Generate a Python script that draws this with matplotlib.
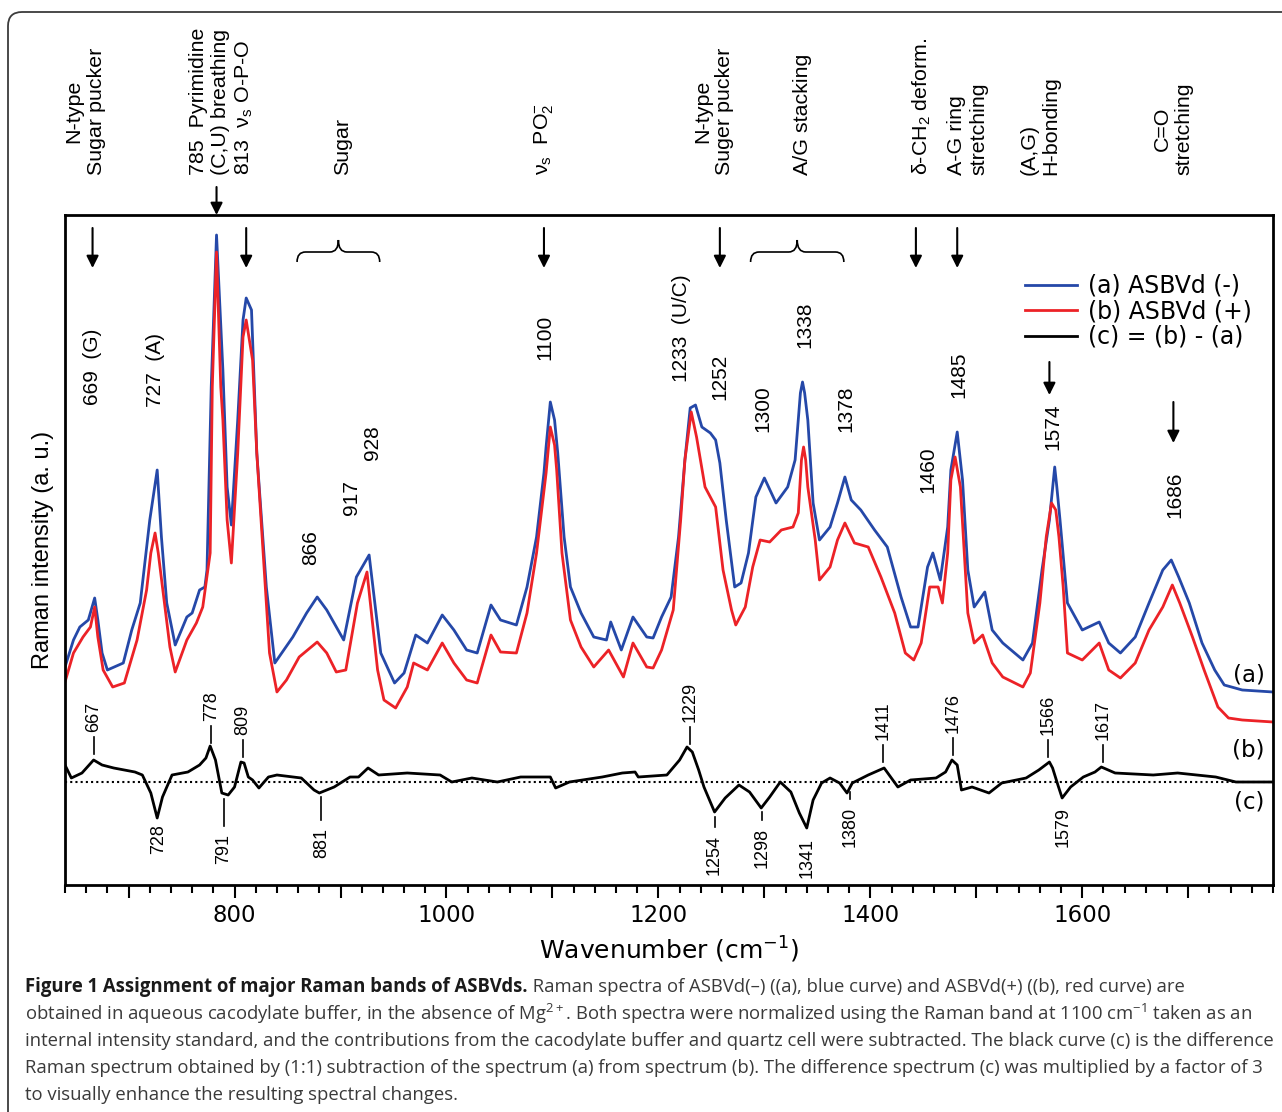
import numpy as np
import matplotlib
matplotlib.use("Agg")
import matplotlib.pyplot as plt
from matplotlib.path import Path
from matplotlib.patches import PathPatch, FancyBboxPatch
from matplotlib.ticker import MultipleLocator, FuncFormatter

plt.rcParams['font.family'] = ['Liberation Sans', 'DejaVu Sans']
plt.rcParams['mathtext.default'] = 'regular'

# spectrum (a) ASBVd(-), blue
wn_a = [640, 648, 654, 662, 668, 671, 675, 680, 695, 703, 711, 720, 727, 731, 736, 744, 755, 760,
        767, 772, 774, 778, 783, 789, 793, 797, 803, 808, 811, 816, 821, 830, 838, 855, 868, 878,
        887, 903, 915, 927, 938, 951, 960, 971, 982, 996, 1007, 1019, 1029, 1042, 1051, 1066, 1076,
        1085, 1092, 1094, 1098, 1102, 1105, 1111, 1117, 1127, 1139, 1151, 1155, 1165, 1176, 1189,
        1195, 1203, 1212, 1219, 1225, 1230, 1235, 1241, 1249, 1254, 1258, 1264, 1272, 1278, 1285,
        1292, 1300, 1311, 1322, 1329, 1334, 1336, 1338, 1341, 1346, 1352, 1362, 1369, 1376, 1382,
        1391, 1404, 1416, 1429, 1438, 1445, 1454, 1459, 1466, 1473, 1476, 1482, 1487, 1492, 1498,
        1508, 1515, 1525, 1544, 1553, 1562, 1569, 1574, 1576, 1579, 1586, 1600, 1616, 1625, 1636,
        1650, 1663, 1676, 1684, 1691, 1701, 1713, 1725, 1734, 1751, 1780]
int_a = [218, 245, 258, 265, 287, 265, 232, 215, 222, 255, 282, 365, 415, 348, 282, 240, 268, 272,
         295, 298, 315, 498, 650, 515, 398, 360, 465, 565, 587, 575, 432, 298, 222, 248, 272, 288,
         275, 245, 308, 330, 232, 202, 212, 250, 242, 270, 255, 235, 232, 280, 265, 260, 298,
         348, 412, 438, 483, 465, 432, 348, 298, 272, 248, 245, 263, 235, 268, 248,
         247, 268, 288, 348, 425, 477, 480, 458, 452, 445, 422, 365, 298, 302, 332,
         388, 407, 382, 398, 425, 492, 503, 492, 465, 382, 345, 358, 382, 408, 385,
         375, 355, 338, 288, 258, 258, 318, 332, 305, 358, 415, 453, 405, 315, 278,
         293, 255, 242, 225, 242, 315, 365, 418, 398, 365, 282, 255, 263, 242, 232,
         248, 282, 315, 325, 308, 282, 242, 215, 200, 195, 193]

# spectrum (b) ASBVd(+), red
wn_b = [640, 648, 657, 664, 668, 671, 676, 685, 696, 708, 717, 721, 725, 728, 732, 739, 744, 755,
        764, 770, 777, 779, 783, 787, 789, 793, 797, 803, 808, 811, 817, 821, 825, 833, 840, 849,
        861, 878, 887, 896, 905, 916, 925, 935, 941, 952, 963, 969, 982, 996, 1007, 1019, 1029,
        1042, 1051, 1066, 1076, 1085, 1094, 1098, 1102, 1104, 1109, 1117, 1127, 1139, 1153, 1167,
        1176, 1189, 1195, 1203, 1214, 1221, 1225, 1231, 1236, 1244, 1254, 1261, 1269, 1273, 1282,
        1289, 1296, 1305, 1316, 1327, 1332, 1335, 1337, 1339, 1341, 1348, 1352, 1362, 1369, 1376,
        1385, 1398, 1410, 1423, 1433, 1441, 1448, 1456, 1464, 1468, 1473, 1476, 1480, 1485, 1492,
        1498, 1506, 1515, 1525, 1544, 1551, 1560, 1566, 1571, 1575, 1578, 1582, 1586, 1600, 1616,
        1625, 1636, 1650, 1663, 1676, 1685, 1692, 1704, 1715, 1728, 1738, 1751, 1780]
int_b = [203, 232, 248, 258, 278, 248, 215, 198, 202, 245, 295, 332, 352, 332, 298, 238, 213, 245,
         262, 278, 332, 498, 633, 498, 465, 365, 322, 432, 548, 565, 525, 432, 365, 232, 193, 205,
         228, 243, 232, 213, 215, 282, 313, 215, 185, 177, 198, 222, 215, 242, 222, 205, 202,
         250, 233, 232, 272, 332, 412, 458, 440, 415, 332, 265, 238, 218, 235, 208,
         242, 218, 217, 235, 275, 365, 425, 473, 448, 398, 378, 315, 275, 260, 278,
         318, 345, 343, 355, 358, 372, 425, 438, 425, 398, 345, 305, 318, 345, 362,
         342, 338, 308, 272, 232, 225, 242, 298, 298, 282, 332, 405, 428, 398, 272,
         242, 250, 222, 208, 198, 212, 282, 348, 382, 375, 348, 298, 232, 225, 242,
         215, 207, 222, 255, 278, 300, 282, 248, 215, 178, 167, 165, 163]

# difference spectrum (c) = (b) - (a), x3, relative to its zero line
wn_c = [640, 646, 656, 667, 675, 686, 706, 713, 721, 727, 732, 741, 756, 767, 773, 777, 782, 788,
        794, 800, 806, 809, 813, 817, 823, 832, 840, 863, 875, 880, 894, 909, 917, 926, 936, 963,
        994, 1005, 1024, 1048, 1070, 1098, 1103, 1116, 1147, 1166, 1178, 1181, 1208, 1220, 1227,
        1232, 1238, 1243, 1253, 1263, 1276, 1286, 1297, 1305, 1315, 1325, 1333, 1340, 1346, 1354,
        1362, 1371, 1378, 1383, 1398, 1413, 1426, 1438, 1462, 1471, 1477, 1482, 1486, 1496, 1512,
        1524, 1547, 1559, 1569, 1572, 1577, 1581, 1589, 1601, 1612, 1618, 1631, 1667, 1690, 1726,
        1745, 1780]
diff_c = [17, 4, 9, 22, 17, 14, 10, 7, -11, -36, -15, 7, 10, 17, 24, 36, 22, -11,
          -13, -5, 20, 19, 5, 2, -6, 5, 7, 4, -8, -11, -5, 5, 5, 14, 7, 9,
          7, 0, 4, 0, 5, 5, -6, 0, 5, 9, 10, 5, 7, 22, 35,
          30, 12, -5, -30, -16, -3, -10, -26, -15, 0, -10, -31, -46, -18, -1,
          4, -1, -11, -1, 7, 14, -5, 2, 4, 10, 22, 17, -8, -5, -11,
          -1, 4, 12, 20, 14, -3, -16, -5, 5, 10, 15, 9, 7, 9, 5,
          0, 0]

# band assignments above the spectra
top_labels = ["N-type\nSugar pucker",
              "785  Pyrimidine\n(C,U) breathing\n813  $\\nu_s$ O-P-O",
              "Sugar", "$\\nu_s$  PO$_2^{-}$",
              "N-type\nSuger pucker", "A/G stacking",
              "$\\delta$-CH$_2$ deform.", "A-G ring\nstretching",
              "(A,G)\nH-bonding", "C=O\nstretching"]
top_label_wn = [659, 788, 902, 1092, 1252, 1336, 1449, 1492, 1560, 1686]
top_label_align = ['center', 'left', 'left', 'left', 'center', 'left', 'left', 'left', 'left', 'center']

arrow_wn = [666, 811, 1092, 1258, 1443, 1482]
brace_spans = [(859, 937), (1287, 1375)]

# peak positions labelled on spectra (a)/(b)
peak_labels = ["669  (G)", "727  (A)", "866", "917", "928", "1100", "1233  (U/C)", "1252",
               "1300", "1338", "1378", "1460", "1485", "1574", "1686"]
peak_label_wn = [666, 725, 872, 910, 930, 1093, 1222, 1258, 1299, 1338, 1377, 1454, 1484, 1572, 1687]
peak_label_y = [480, 478, 320, 370, 425, 525, 503, 485, 453, 537, 453, 392, 487, 435, 367]

# labelled bands of the difference spectrum
diff_up_labels = ["667", "778", "809", "1229", "1411", "1476", "1566", "1617"]
diff_up_wn = [667, 778, 808, 1230, 1412, 1478, 1568, 1620]
diff_down_labels = ["728", "791", "881", "1254", "1298", "1341", "1380", "1579"]
diff_down_wn = [728, 790, 882, 1253, 1298, 1340, 1381, 1582]
diff_down_lead = [0, 27, 23, 10, 8, 0, 7, 0]

zero_c = 103

fig = plt.figure(figsize=(12.82, 11.12), dpi=100)
ax = fig.add_axes([65 / 1282, 227 / 1112, 1208 / 1282, 670 / 1112])

ax.plot(wn_a, int_a, color='#2548a8', lw=2.0, label='(a) ASBVd (-)')
ax.plot(wn_b, int_b, color='#ec2227', lw=2.0, label='(b) ASBVd (+)')
ax.plot(wn_c, np.array(diff_c) + zero_c, color='black', lw=2.0, label='(c) = (b) - (a)')
ax.axhline(zero_c, color='black', ls=(0, (1, 1.5)), lw=1.5)

ax.set_xlim(640, 1780)
ax.set_ylim(0, 670)
ax.set_yticks([])
ax.xaxis.set_major_locator(MultipleLocator(100))
ax.xaxis.set_minor_locator(MultipleLocator(20))
ax.xaxis.set_major_formatter(FuncFormatter(lambda v, p: f"{v:.0f}" if v % 200 == 0 else ""))
ax.tick_params(axis='x', which='major', length=9, width=1.5, labelsize=16.5, pad=5,
               labelfontfamily='DejaVu Sans')
ax.tick_params(axis='x', which='minor', length=5.5, width=1.5)
for s in ax.spines.values():
    s.set_linewidth(2)

ax.set_xlabel(r"Wavenumber (cm$^{-1}$)", fontsize=18, family='DejaVu Sans')
ax.xaxis.set_label_coords(0.5, -0.075)
ax.set_ylabel("Raman intensity (a. u.)", fontsize=17)
ax.yaxis.set_label_coords(-0.0095, 0.5)

# assignments on top
for txt, w, al in zip(top_labels, top_label_wn, top_label_align):
    ax.text(w, 710, txt, rotation=90, ha='center', va='bottom', multialignment=al,
            fontsize=15.4, linespacing=1.2, clip_on=False)

arrow_kw = dict(arrowstyle='-|>', color='black', lw=1.5, mutation_scale=18, shrinkA=0, shrinkB=0)
for w in arrow_wn:
    ax.annotate('', xy=(w, 617), xytext=(w, 657), arrowprops=arrow_kw)
ax.annotate('', xy=(783, 670), xytext=(783, 698), arrowprops=arrow_kw, annotation_clip=False)
ax.annotate('', xy=(1569, 490), xytext=(1569, 523), arrowprops=arrow_kw)
ax.annotate('', xy=(1686, 442), xytext=(1686, 483), arrowprops=arrow_kw)

for x0, x1 in brace_spans:
    m = (x0 + x1) / 2
    r = 8
    verts = [(x0, 623), (x0, 633), (x0 + r, 633), (m - r, 633), (m, 633), (m, 645),
             (m, 633), (m + r, 633), (x1 - r, 633), (x1, 633), (x1, 623)]
    codes = [Path.MOVETO, Path.CURVE3, Path.CURVE3, Path.LINETO, Path.CURVE3, Path.CURVE3,
             Path.CURVE3, Path.CURVE3, Path.LINETO, Path.CURVE3, Path.CURVE3]
    ax.add_patch(PathPatch(Path(verts, codes), fill=False, lw=1.2, color='black'))

for txt, w, y in zip(peak_labels, peak_label_wn, peak_label_y):
    ax.text(w, y, txt, rotation=90, ha='center', va='bottom', fontsize=15)

# difference-spectrum labels
for txt, w in zip(diff_up_labels, diff_up_wn):
    v = np.interp(w, wn_c, diff_c) + zero_c
    ax.plot([w, w], [v + 6, v + 23], color='black', lw=1.2)
    ax.text(w, v + 28, txt, rotation=90, ha='center', va='bottom', fontsize=13)
for txt, w, lead in zip(diff_down_labels, diff_down_wn, diff_down_lead):
    v = np.interp(w, wn_c, diff_c) + zero_c
    if lead:
        ax.plot([w, w], [v - 5, v - 5 - lead], color='black', lw=1.2)
        ytop = v - 5 - lead - 8
    else:
        ytop = v - 10
    ax.text(w, ytop, txt, rotation=90, ha='center', va='top', fontsize=13)

for txt, y in zip(["(a)", "(b)", "(c)"], [210, 135, 83]):
    ax.text(1772, y, txt, ha='right', va='center', fontsize=16.5, family='DejaVu Sans')

ax.legend(loc='upper left', bbox_to_anchor=((1025 - 65) / 1208, (885 - 274) / 670),
          frameon=False, borderpad=0, borderaxespad=0, handlelength=2.2, handletextpad=0.45,
          labelspacing=0.06, prop={'family': 'DejaVu Sans', 'size': 17})

# outer frame
fig.add_artist(FancyBboxPatch((0.08, -1.0), 14, 12.0, boxstyle='round,pad=0,rounding_size=0.14',
                              transform=fig.dpi_scale_trans, fill=False, ec='#3c3c3c', lw=1.3))

# caption
cap_lines = [
    "obtained in aqueous cacodylate buffer, in the absence of Mg$^{2+}$. Both spectra were normalized using the Raman band at 1100 cm$^{-1}$ taken as an",
    "internal intensity standard, and the contributions from the cacodylate buffer and quartz cell were subtracted. The black curve (c) is the difference",
    "Raman spectrum obtained by (1:1) subtraction of the spectrum (a) from spectrum (b). The difference spectrum (c) was multiplied by a factor of 3",
    "to visually enhance the resulting spectral changes.",
]
cap_fs = 12
bold = fig.text(25 / 1282, 1 - 987 / 1112, "Figure 1 Assignment of major Raman bands of ASBVds.",
                family='Open Sans', fontweight='bold', fontsize=cap_fs, color='#1a1a1a', va='center')
rest = ax.annotate(" Raman spectra of ASBVd(–) ((a), blue curve) and ASBVd(+) ((b), red curve) are",
                   xy=(1, 0.5), xycoords=bold, va='center', family='Open Sans', fontsize=cap_fs,
                   color='#3a3a3a', annotation_clip=False)
cap_texts = [bold, rest]
for i, line in enumerate(cap_lines):
    cap_texts.append(fig.text(25 / 1282, 1 - (1014 + 27 * i) / 1112, line, family='Open Sans',
                              fontsize=cap_fs, color='#3a3a3a', va='center'))

fig.canvas.draw()
w3 = cap_texts[3].get_window_extent().width
scale = 1245 / w3
for t in cap_texts:
    t.set_fontsize(cap_fs * scale)

fig.savefig("out.png", dpi=100)
